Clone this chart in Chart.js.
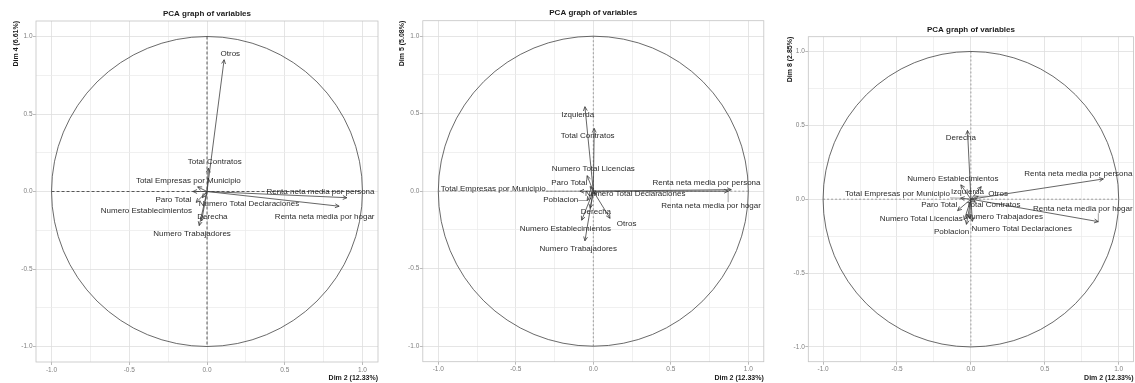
<!DOCTYPE html>
<html>
<head>
<meta charset="utf-8">
<script src="https://cdn.jsdelivr.net/npm/chart.js@4.4.1/dist/chart.umd.min.js"></script>
<style>
  html, body { margin: 0; padding: 0; background: #fff; }
  body { width: 1135px; height: 383px; position: relative; overflow: hidden; }
  canvas { position: absolute; top: 0; }
</style>
</head>
<body>
<canvas id="p1" width="380" height="383" style="left:0px"></canvas>
<canvas id="p2" width="382" height="383" style="left:384px"></canvas>
<canvas id="p3" width="367" height="383" style="left:768px"></canvas>
<script>
// ticks shared by all three panels
const majorTicks = [-1, -0.5, 0, 0.5, 1];
const minorTicks = [-0.75, -0.25, 0.25, 0.75];
const chartTitle = "PCA graph of variables";
const xAxisTitle = "Dim 2 (12.33%)";

// panel 1 : Dim 2 vs Dim 4
const p1Vars = ["Otros", "Total Contratos", "Total Empresas por Municipio", "Renta neta media por persona",
  "Paro Total", "Numero Total Declaraciones", "Renta neta media por hogar", "Numero Establecimientos",
  "Derecha", "Numero Trabajadores"];
const p1X = [0.11, 0.01, -0.06, 0.90, -0.09, -0.03, 0.85, -0.07, -0.035, -0.05];
const p1Y = [0.85, 0.15, 0.03, -0.04, 0.0, -0.04, -0.095, -0.07, -0.19, -0.22];
const p1LabelX = [0.15, 0.05, -0.12, 0.73, -0.216, 0.27, 0.757, -0.39, 0.035, -0.096];
const p1LabelY = [0.89, 0.19, 0.068, 0.0, -0.052, -0.082, -0.161, -0.127, -0.161, -0.271];

// panel 2 : Dim 2 vs Dim 5
const p2Vars = ["Izquierda", "Total Contratos", "Numero Total Licencias", "Paro Total",
  "Total Empresas por Municipio", "Renta neta media por persona", "Renta neta media por hogar",
  "Numero Total Declaraciones", "Poblacion", "Derecha", "Otros", "Numero Establecimientos",
  "Numero Trabajadores"];
const p2X = [-0.054, 0.006, -0.04, -0.02, -0.086, 0.89, 0.87, 0.02, -0.04, -0.02, 0.108, -0.075, -0.054];
const p2Y = [0.545, 0.405, 0.10, 0.03, 0.0, 0.01, 0.0, -0.02, -0.06, -0.11, -0.175, -0.187, -0.32];
const p2LabelX = [-0.10, -0.036, 0.0, -0.155, -0.645, 0.73, 0.76, 0.27, -0.21, 0.017, 0.215, -0.18, -0.097];
const p2LabelY = [0.495, 0.355, 0.145, 0.056, 0.015, 0.054, -0.097, -0.017, -0.058, -0.135, -0.21, -0.24, -0.37];

// panel 3 : Dim 2 vs Dim 8
const p3Vars = ["Derecha", "Renta neta media por persona", "Renta neta media por hogar",
  "Numero Establecimientos", "Izquierda", "Otros", "Total Empresas por Municipio", "Paro Total",
  "Total Contratos", "Numero Total Licencias", "Numero Trabajadores", "Numero Total Declaraciones",
  "Poblacion"];
const p3X = [-0.023, 0.896, 0.862, -0.068, 0.07, 0.05, -0.07, -0.09, 0.03, -0.045, -0.01, 0.01, -0.03];
const p3Y = [0.465, 0.137, -0.152, 0.097, 0.085, 0.02, 0.007, -0.077, -0.02, -0.14, -0.129, -0.15, -0.17];
const p3LabelX = [-0.068, 0.727, 0.757, -0.122, -0.023, 0.184, -0.496, -0.214, 0.153, -0.336, 0.225, 0.344, -0.131];
const p3LabelY = [0.415, 0.173, -0.068, 0.137, 0.047, 0.038, 0.036, -0.041, -0.041, -0.131, -0.12, -0.199, -0.224];

const FONT = "'Liberation Sans', Arial, sans-serif";
const isMajor = v => Math.abs(v * 2 - Math.round(v * 2)) < 1e-9;
const allTicks = majorTicks.concat(minorTicks).sort((a, b) => a - b);

const pcaPlugin = {
  id: "pca",
  beforeDatasetsDraw(chart, args, opts) {
    const { ctx, chartArea: a, scales: { x, y } } = chart;
    ctx.save();
    // panel border
    ctx.strokeStyle = "#c4c4c4";
    ctx.lineWidth = 0.8;
    ctx.strokeRect(a.left, a.top, a.right - a.left, a.bottom - a.top);
    // dashed axes through the origin
    ctx.strokeStyle = opts.zeroColor;
    ctx.setLineDash(opts.zeroDash);
    ctx.lineWidth = 0.8;
    ctx.beginPath();
    ctx.moveTo(x.getPixelForValue(-1), y.getPixelForValue(0));
    ctx.lineTo(x.getPixelForValue(1), y.getPixelForValue(0));
    ctx.moveTo(x.getPixelForValue(0), y.getPixelForValue(1));
    ctx.lineTo(x.getPixelForValue(0), y.getPixelForValue(-1));
    ctx.stroke();
    ctx.setLineDash([]);
    // correlation circle
    const cx = x.getPixelForValue(0), cy = y.getPixelForValue(0);
    ctx.strokeStyle = "#444";
    ctx.lineWidth = 0.8;
    ctx.beginPath();
    ctx.ellipse(cx, cy, x.getPixelForValue(1) - cx, cy - y.getPixelForValue(1), 0, 0, Math.PI * 2);
    ctx.stroke();
    ctx.restore();
  },
  afterDatasetsDraw(chart) {
    const { ctx, scales: { x, y } } = chart;
    ctx.save();
    ctx.font = "8px " + FONT;
    ctx.textAlign = "center";
    ctx.textBaseline = "middle";
    chart.data.datasets.forEach((ds, i) => {
      const pts = chart.getDatasetMeta(i).data;
      const p0 = pts[0], p1 = pts[1];
      const ang = Math.atan2(p1.y - p0.y, p1.x - p0.x);
      const len = 4.5, spread = 0.45;
      ctx.strokeStyle = "#3a3a3a";
      ctx.lineWidth = 0.8;
      ctx.beginPath();
      ctx.moveTo(p1.x - len * Math.cos(ang - spread), p1.y - len * Math.sin(ang - spread));
      ctx.lineTo(p1.x, p1.y);
      ctx.lineTo(p1.x - len * Math.cos(ang + spread), p1.y - len * Math.sin(ang + spread));
      ctx.stroke();

      const lx = x.getPixelForValue(ds.labelAt.x), ly = y.getPixelForValue(ds.labelAt.y);
      const w = ctx.measureText(ds.label).width, h = 8;
      // repel segment from label box to arrow tip
      const nx = Math.max(lx - w / 2, Math.min(p1.x, lx + w / 2));
      const ny = Math.max(ly - h / 2, Math.min(p1.y, ly + h / 2));
      if (Math.hypot(p1.x - nx, p1.y - ny) > 8) {
        ctx.strokeStyle = "#666";
        ctx.lineWidth = 0.6;
        ctx.beginPath();
        ctx.moveTo(nx, ny);
        ctx.lineTo(p1.x, p1.y);
        ctx.stroke();
      }
      ctx.fillStyle = "#2b2b2b";
      ctx.fillText(ds.label, lx, ly);
    });
    ctx.restore();
  }
};

function scaleOpts(axis, L) {
  const o = {
    type: "linear",
    min: -1.1,
    max: 1.1,
    afterBuildTicks: s => { s.ticks = allTicks.map(v => ({ value: v })); },
    grid: {
      color: c => (c.tick && isMajor(c.tick.value)) ? "#dedede" : "#ececec",
      lineWidth: 0.8,
      tickColor: c => (c.tick && isMajor(c.tick.value)) ? "#aaa" : "rgba(0,0,0,0)",
      tickLength: 3
    },
    border: { display: false },
    ticks: {
      autoSkip: false,
      maxRotation: 0,
      color: "#7f7f7f",
      font: { family: FONT, size: 6.5 },
      padding: axis === "x" ? 1 : 0.5,
      callback: v => isMajor(v) ? v.toFixed(1) : ""
    },
    title: {
      display: true,
      align: "end",
      color: "#1a1a1a",
      font: { family: FONT, size: 7, weight: "bold" },
      text: axis === "x" ? xAxisTitle : L.yTitle,
      padding: axis === "x" ? { top: 0, bottom: L.xTitlePad } : { top: L.yTitlePad, bottom: 0 }
    }
  };
  if (axis === "x") o.afterFit = s => { s.height = L.axisH; };
  else o.afterFit = s => { s.width = L.axisW; };
  return o;
}

function makePanel(id, L, names, xs, ys, lxs, lys) {
  const datasets = names.map((n, i) => ({
    label: n,
    data: [{ x: 0, y: 0 }, { x: xs[i], y: ys[i] }],
    labelAt: { x: lxs[i], y: lys[i] },
    showLine: true,
    borderColor: "#3f3f3f",
    borderWidth: 0.8,
    pointRadius: 0
  }));
  new Chart(document.getElementById(id), {
    type: "scatter",
    data: { datasets },
    plugins: [pcaPlugin],
    options: {
      responsive: false,
      animation: false,
      events: [],
      layout: { padding: { left: 0, right: L.padRight, top: 0, bottom: 0 } },
      plugins: {
        legend: { display: false },
        tooltip: { enabled: false },
        title: {
          display: true,
          fullSize: false,
          text: chartTitle,
          color: "#1a1a1a",
          font: { family: FONT, size: 8, weight: "bold" },
          padding: { top: L.titleTop, bottom: L.titleBottom }
        },
        pca: { zeroColor: L.zeroColor, zeroDash: L.zeroDash }
      },
      scales: { x: scaleOpts("x", L), y: scaleOpts("y", L) }
    }
  });
}

makePanel("p1", { yTitle: "Dim 4 (6.61%)", axisW: 36, axisH: 21, padRight: 2, titleTop: 8.7, titleBottom: 2.7,
  yTitlePad: 11.8, xTitlePad: 0.3, zeroColor: "#333", zeroDash: [3, 2] }, p1Vars, p1X, p1Y, p1LabelX, p1LabelY);
makePanel("p2", { yTitle: "Dim 5 (5.08%)", axisW: 38.8, axisH: 21.3, padRight: 2.2, titleTop: 8.2, titleBottom: 2.9,
  yTitlePad: 14, xTitlePad: 0.5, zeroColor: "#8a8a8a", zeroDash: [2, 2] }, p2Vars, p2X, p2Y, p2LabelX, p2LabelY);
makePanel("p3", { yTitle: "Dim 8 (2.85%)", axisW: 40.3, axisH: 21.3, padRight: 1.5, titleTop: 24.7, titleBottom: 2.4,
  yTitlePad: 17.5, xTitlePad: 1, zeroColor: "#8a8a8a", zeroDash: [2, 2] }, p3Vars, p3X, p3Y, p3LabelX, p3LabelY);
</script>
</body>
</html>
